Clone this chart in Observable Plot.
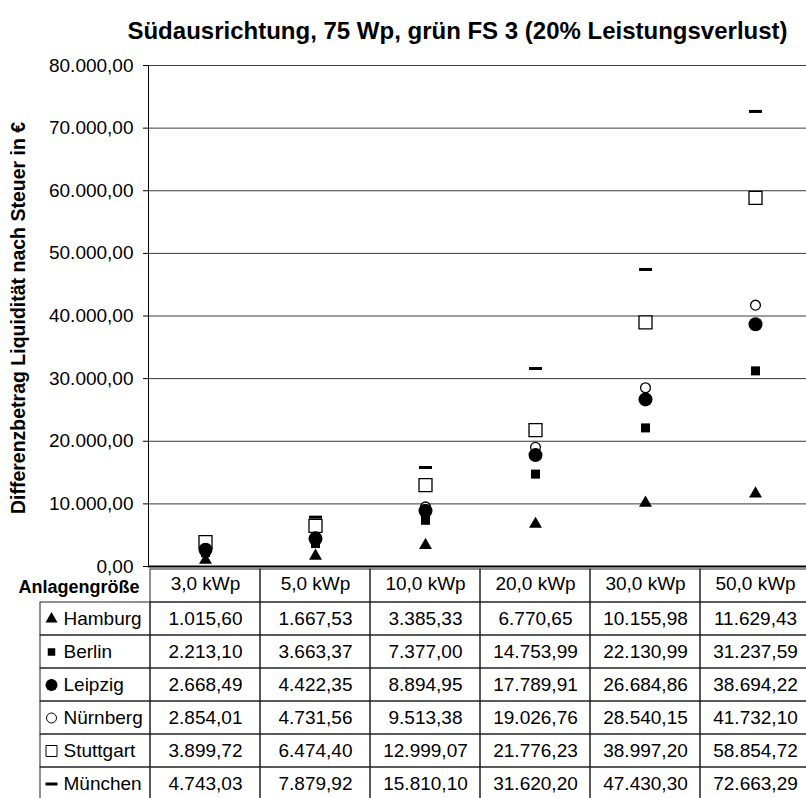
<!DOCTYPE html>
<html><head><meta charset="utf-8">
<script src="https://cdn.jsdelivr.net/npm/d3@7"></script>
<script src="https://cdn.jsdelivr.net/npm/@observablehq/plot@0.6"></script>
<style>
html,body{margin:0;padding:0;background:#fff;overflow:hidden;}
#wrap{position:relative;width:806px;height:798px;overflow:hidden;}
#chart,#table{position:absolute;left:0;}
#chart{top:0;}
#table{top:566px;}
</style></head><body><div id="wrap"><div id="table"></div><div id="chart"></div></div>
<script>
const titleText = "Südausrichtung, 75 Wp, grün FS 3 (20% Leistungsverlust)";
const yLabel = "Differenzbetrag Liquidität nach Steuer in €";
const headerLabel = "Anlagengröße";
const sizes = ["3,0 kWp", "5,0 kWp", "10,0 kWp", "20,0 kWp", "30,0 kWp", "50,0 kWp"];
const cities = ["Hamburg", "Berlin", "Leipzig", "Nürnberg", "Stuttgart", "München"];
const yTicks = [0, 10000, 20000, 30000, 40000, 50000, 60000, 70000, 80000];
const hamburg   = [1015.60, 1667.53, 3385.33, 6770.65, 10155.98, 11629.43];
const berlin    = [2213.10, 3663.37, 7377.00, 14753.99, 22130.99, 31237.59];
const leipzig   = [2668.49, 4422.35, 8894.95, 17789.91, 26684.86, 38694.22];
const nuernberg = [2854.01, 4731.56, 9513.38, 19026.76, 28540.15, 41732.10];
const stuttgart = [3899.72, 6474.40, 12999.07, 21776.23, 38997.20, 58854.72];
const muenchen  = [4743.03, 7879.92, 15810.10, 31620.20, 47430.30, 72663.29];

const fmt = d3.formatLocale({decimal: ",", thousands: ".", grouping: [3], currency: ["", ""]}).format(",.2f");
const dash = {draw(ctx) { ctx.moveTo(-6.5, -1.5); ctx.lineTo(6.5, -1.5); ctx.lineTo(6.5, 1.5); ctx.lineTo(-6.5, 1.5); ctx.closePath(); }};
const dashSmall = {draw(ctx) { ctx.moveTo(-6, -1.5); ctx.lineTo(6, -1.5); ctx.lineTo(6, 1.5); ctx.lineTo(-6, 1.5); ctx.closePath(); }};

const seriesValues = [hamburg, berlin, leipzig, nuernberg, stuttgart, muenchen];
const styles = [
  {symbol: "triangle", r: 4.8, fill: "black", stroke: "none", lr: 4.45, lsym: "triangle"},
  {symbol: "square", r: 5.08, fill: "black", stroke: "none", lr: 4.23, lsym: "square"},
  {symbol: "circle", r: 7, fill: "black", stroke: "none", lr: 6, lsym: "circle"},
  {symbol: "circle", r: 4.9, fill: "white", stroke: "black", lr: 5, lsym: "circle"},
  {symbol: "square", r: 7.33, fill: "white", stroke: "black", lr: 6.2, lsym: "square"},
  {symbol: dash, r: 5, fill: "black", stroke: "none", lr: 5, lsym: dashSmall}
];

const rows = cities.flatMap((c, ci) => seriesValues[ci].map((v, i) => ({city: c, size: sizes[i], value: v})));
const font = "'Liberation Sans', Arial, sans-serif";

const dotMarks = cities.map((c, ci) => {
  const s = styles[ci];
  return Plot.dot(rows.filter(d => d.city === c), {
    x: "size", y: "value", symbol: s.symbol, r: s.r,
    fill: s.fill, stroke: s.stroke, strokeWidth: 1.3
  });
}).reverse();

const chart = Plot.plot({
  width: 806, height: 580,
  marginTop: 65, marginLeft: 148, marginRight: 0, marginBottom: 14,
  style: {background: "transparent", fontFamily: font, fontSize: "19px", color: "black"},
  x: {type: "band", domain: sizes, range: [148, 812], padding: 0, axis: null},
  y: {domain: [0, 80000], range: [566, 65]},
  marks: [
    Plot.ruleY(yTicks.filter(t => t > 0), {stroke: "#3a3a3a", strokeWidth: 1}),
    Plot.axisY(yTicks, {tickSize: 5, tickPadding: 10, tickFormat: fmt, label: null, fontSize: 19, stroke: "black"}),
    Plot.frame({anchor: "left", stroke: "black"}),
    Plot.ruleY([0], {stroke: "black", strokeWidth: 2}),
    ...dotMarks,
    Plot.text([titleText], {frameAnchor: "top", dy: -44, dx: -20, fontSize: 24, fontWeight: "bold", text: d => d}),
    Plot.text([yLabel], {frameAnchor: "left", textAnchor: "middle", dx: -129.5, dy: 2, rotate: -90, fontSize: 19.5, fontWeight: "bold", text: d => d})
  ]
});
document.getElementById("chart").appendChild(chart);

const colDomain = ["label", ...sizes];
const rowDomain = ["header", ...cities];
const cellData = [];
rowDomain.forEach((r, ri) => colDomain.forEach((c, ci) => { if (!(ri === 0 && ci === 0)) cellData.push({row: r, col: c}); }));
const valueCells = rows.map(d => ({row: d.city, col: d.size, text: fmt(d.value)}));

const legendMarks = cities.map((c, ci) => {
  const s = styles[ci];
  return Plot.dot([c], {x: () => "label", y: d => d, symbol: s.lsym, r: s.lr, fill: s.fill, stroke: s.stroke, strokeWidth: 1, dx: -44});
});

const table = Plot.plot({
  width: 806, height: 240, margin: 0,
  style: {background: "transparent", fontFamily: font, fontSize: "19px", color: "black"},
  x: {type: "band", domain: colDomain, range: [38, 812], padding: 0, axis: null},
  y: {type: "band", domain: rowDomain, range: [0, 236], padding: 0, axis: null},
  marks: [
    Plot.cell(cellData, {x: "col", y: "row", fill: "none", stroke: "#222", strokeWidth: 1, inset: 0}),
    Plot.text(sizes, {x: d => d, y: () => "header", text: d => d, fontSize: 19, dy: -2}),
    Plot.text([headerLabel], {x: () => "label", y: () => "header", text: d => d, textAnchor: "end", dx: 44, fontWeight: "bold", fontSize: 18, dy: 1}),
    Plot.text(valueCells, {x: "col", y: "row", text: "text", fontSize: 19}),
    Plot.text(cities, {x: () => "label", y: d => d, text: d => d, textAnchor: "start", dx: -32, fontSize: 19}),
    ...legendMarks
  ]
});
document.getElementById("table").appendChild(table);
</script></body></html>
